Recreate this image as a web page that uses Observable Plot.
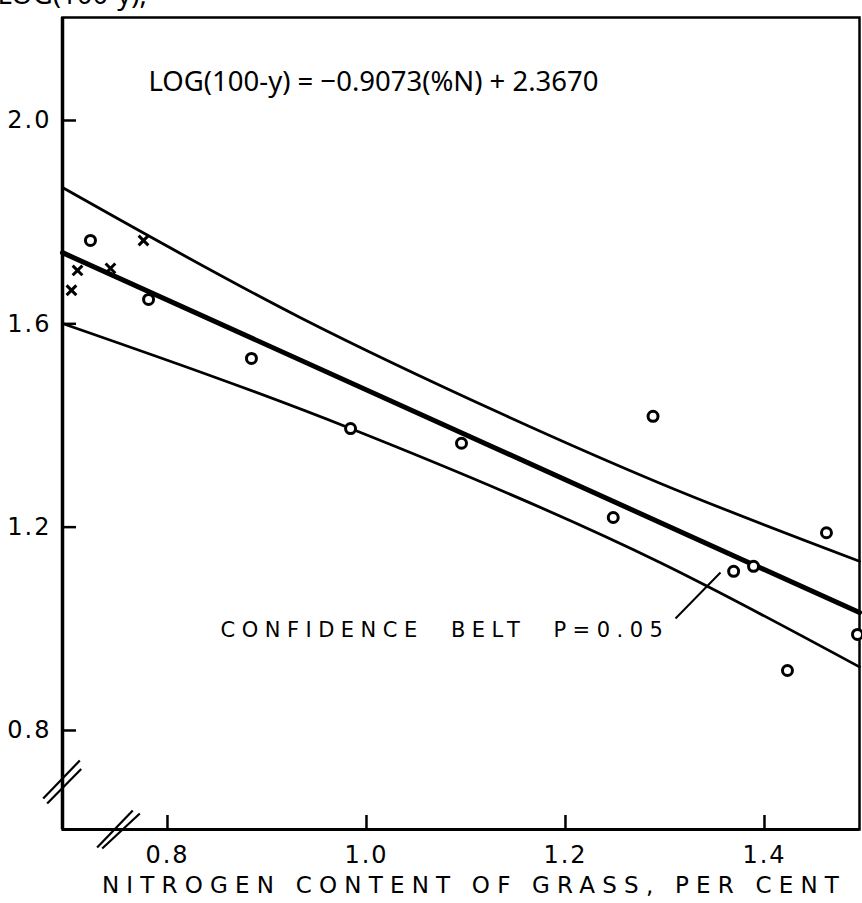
<!DOCTYPE html>
<html>
<head>
<meta charset="utf-8">
<script src="https://cdn.jsdelivr.net/npm/d3@7"></script>
<script src="https://cdn.jsdelivr.net/npm/@observablehq/plot@0.6"></script>
<style>
  html, body { margin: 0; padding: 0; background: #fff; overflow: hidden; }
  #chart svg { display: block; }
</style>
</head>
<body>
<div id="chart"></div>
<script>
// ---- data ----
const xTicks = [0.8, 1.0, 1.2, 1.4];
const yTicks = [0.8, 1.2, 1.6, 2.0];
const xDomain = [0.6945, 1.4955];
const yDomain = [0.6052, 2.2026];

// observed points (circles)
const circleN   = [0.7226, 0.781, 0.8844, 0.984, 1.0955, 1.248, 1.288, 1.369, 1.389, 1.4231, 1.4623, 1.4935];
const circleLog = [1.764, 1.648, 1.532, 1.394, 1.365, 1.219, 1.418, 1.113, 1.123, 0.918, 1.189, 0.989];

// observed points (crosses)
const crossN   = [0.7035, 0.7096, 0.7427, 0.7759];
const crossLog = [1.666, 1.705, 1.709, 1.764];

// fitted regression line
const fitN   = [0.6945, 1.4955];
const fitLog = [1.740, 1.032];

// confidence belt, upper and lower
const upperN   = [0.6945, 0.9337, 1.1347, 1.2955, 1.4955];
const upperLog = [1.868, 1.612, 1.424, 1.286, 1.133];
const lowerN   = [0.6945, 0.984, 1.2955, 1.4955];
const lowerLog = [1.6006, 1.394, 1.130, 0.925];

// leader from the belt label
const leaderN   = [1.3106, 1.3558];
const leaderLog = [1.0203, 1.1108];

// axis break marks (pairs of short parallel strokes)
const breakX1 = [0.6751, 0.6791, 0.7293, 0.7344];
const breakY1 = [0.6662, 0.6563, 0.5697, 0.5677];
const breakX2 = [0.7119, 0.7133, 0.7651, 0.7722];
const breakY2 = [0.7409, 0.7243, 0.6425, 0.6368];

const equation = "LOG(100-y) = \u22120.9073(%N) + 2.3670";
const beltLabel = "CONFIDENCE BELT P=0.05";
const xTitle = "NITROGEN CONTENT OF GRASS, PER CENT";
const yTitle = "LOG(100-y),";

// ---- build tables ----
const circles = circleN.map((n, i) => ({n, v: circleLog[i]}));
const crosses = crossN.map((n, i) => ({n, v: crossLog[i]}));
const fit = fitN.map((n, i) => ({n, v: fitLog[i]}));
const upper = upperN.map((n, i) => ({n, v: upperLog[i]}));
const lower = lowerN.map((n, i) => ({n, v: lowerLog[i]}));
const leader = [{x1: leaderN[0], y1: leaderLog[0], x2: leaderN[1], y2: leaderLog[1]}];
const breaks = breakX1.map((x1, i) => ({x1, y1: breakY1[i], x2: breakX2[i], y2: breakY2[i]}));

const font = "'DejaVu Sans', sans-serif";

const svg = Plot.plot({
  width: 862,
  height: 903,
  marginLeft: 62,
  marginRight: 3,
  marginTop: 17,
  marginBottom: 74,
  x: {domain: xDomain},
  y: {domain: yDomain},
  style: {fontFamily: font, color: "black", background: "white", overflow: "visible"},
  marks: [
    Plot.frame({stroke: "black", strokeWidth: 2.5}),
    Plot.ruleX([xDomain[0]], {stroke: "black", strokeWidth: 3.5}),
    Plot.ruleY([yDomain[0]], {stroke: "black", strokeWidth: 3}),
    Plot.axisX(xTicks, {tickSize: -14, tickPadding: 30, fontSize: 24, strokeWidth: 2.5,
      tickFormat: d => d.toFixed(1), label: null}),
    Plot.axisY(yTicks, {tickSize: -14, tickPadding: 25, fontSize: 24, strokeWidth: 2.5,
      tickFormat: d => d.toFixed(1), label: null}),
    Plot.line(upper, {x: "n", y: "v", stroke: "black", strokeWidth: 2.8, curve: "monotone-x"}),
    Plot.line(lower, {x: "n", y: "v", stroke: "black", strokeWidth: 2.8, curve: "monotone-x"}),
    Plot.line(fit, {x: "n", y: "v", stroke: "black", strokeWidth: 5}),
    Plot.dot(circles, {x: "n", y: "v", r: 5, stroke: "black", fill: "white", strokeWidth: 3}),
    Plot.dot(crosses, {x: "n", y: "v", symbol: "times", r: 4.5, stroke: "black", strokeWidth: 3}),
    Plot.link(leader, {x1: "x1", y1: "y1", x2: "x2", y2: "y2", stroke: "black", strokeWidth: 2}),
    Plot.link(breaks, {x1: "x1", y1: "y1", x2: "x2", y2: "y2", stroke: "black", strokeWidth: 2.2}),
    Plot.text([equation], {frameAnchor: "top-left", textAnchor: "start", lineAnchor: "bottom",
      dx: 86, dy: 73, fontSize: 27.5, fontFamily: "'Noto Sans', sans-serif"}),
    Plot.text([beltLabel], {frameAnchor: "top-left", textAnchor: "start", lineAnchor: "bottom",
      dx: 158, dy: 619, fontSize: 21, fontWeight: 500}),
    Plot.text([xTitle], {frameAnchor: "bottom", textAnchor: "middle", lineAnchor: "bottom",
      dx: 13, dy: 63, fontSize: 23}),
    Plot.text([yTitle], {frameAnchor: "top-left", textAnchor: "start", lineAnchor: "bottom",
      dx: -65, dy: -14, fontSize: 27.5, fontFamily: "'Noto Sans', sans-serif"})
  ]
});

const s = d3.select(svg);
s.selectAll("text").each(function() {
  const t = this.textContent;
  if (t === xTitle) this.style.letterSpacing = "7.2px";
  else if (t === beltLabel) { this.style.letterSpacing = "6.5px"; this.style.wordSpacing = "14px"; }
  else if (/^\d\.\d$/.test(t)) this.style.letterSpacing = "2px";
});
document.getElementById("chart").appendChild(svg);
</script>
</body>
</html>
